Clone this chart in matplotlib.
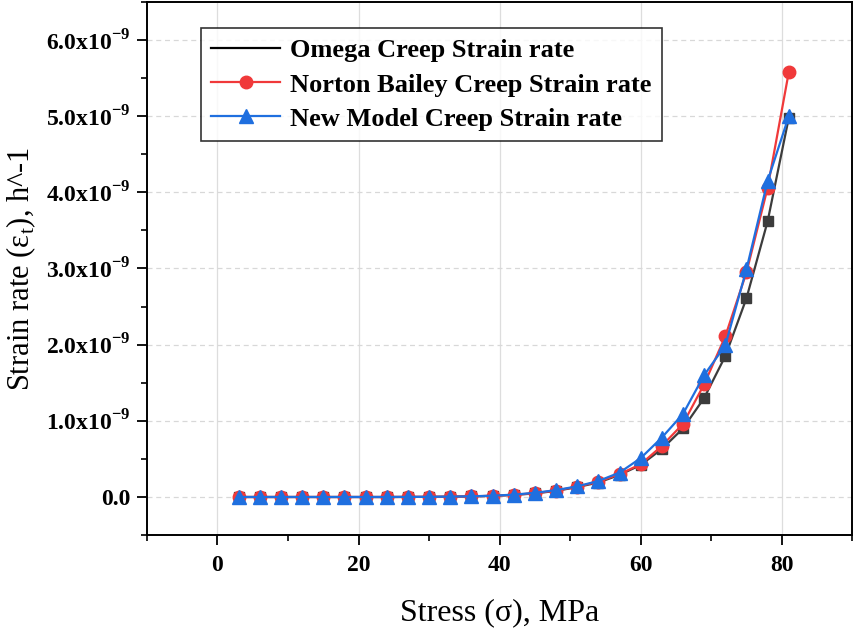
import numpy as np
import matplotlib
matplotlib.use('Agg')
import matplotlib.pyplot as plt
from matplotlib.lines import Line2D
from matplotlib.ticker import FixedLocator, FuncFormatter

plt.rcParams['font.family'] = ['Liberation Serif', 'DejaVu Serif']
plt.rcParams['mathtext.fontset'] = 'custom'
plt.rcParams['mathtext.rm'] = 'Liberation Serif'
plt.rcParams['mathtext.bf'] = 'Liberation Serif:bold'

# stress, MPa
stress = [3, 6, 9, 12, 15, 18, 21, 24, 27, 30, 33, 36, 39, 42,
          45, 48, 51, 54, 57, 60, 63, 66, 69, 72, 75, 78, 81]

# strain rates in units of 1e-9 h^-1
omega = [0.0, 0.0, 0.0, 0.0, 0.0, 0.0, 0.0, 0.0, 0.001, 0.002, 0.004, 0.008, 0.015, 0.027,
         0.047, 0.08, 0.13, 0.19, 0.29, 0.42, 0.63, 0.90, 1.30, 1.85, 2.61, 3.62, 4.98]
norton = [0.0, 0.0, 0.0, 0.0, 0.0, 0.0, 0.0, 0.0, 0.001, 0.002, 0.004, 0.009, 0.016, 0.029,
          0.05, 0.085, 0.135, 0.20, 0.30, 0.43, 0.67, 0.96, 1.48, 2.11, 2.95, 4.06, 5.58]
newmodel = [0.0, 0.0, 0.0, 0.0, 0.0, 0.0, 0.0, 0.0, 0.001, 0.002, 0.005, 0.009, 0.017, 0.031,
            0.055, 0.09, 0.14, 0.21, 0.32, 0.51, 0.78, 1.09, 1.60, 1.99, 2.99, 4.15, 5.0]

x_ticks = [0, 20, 40, 60, 80]
y_ticks = [0, 1, 2, 3, 4, 5, 6]

x = np.array(stress)
scale = 1e-9

fig = plt.figure(figsize=(8.54, 6.31), dpi=100)
ax = fig.add_axes([0.172, 0.152, 0.826, 0.845])

c_black = '#3c3c3c'
c_red = '#f0393a'
c_blue = '#1f6fdf'

ax.plot(x, np.array(omega) * scale, color=c_black, lw=1.6, marker='s', ms=7, zorder=3)
ax.plot(x, np.array(norton) * scale, color=c_red, lw=1.6, marker='o', ms=9, zorder=4)
ax.plot(x, np.array(newmodel) * scale, color=c_blue, lw=1.6, marker='^', ms=10, zorder=5)

ax.set_xlim(-10, 90)
ax.set_ylim(-0.5e-9, 6.5e-9)
ax.xaxis.set_major_locator(FixedLocator(x_ticks))
ax.xaxis.set_minor_locator(FixedLocator([-10 + 20 * i for i in range(6)]))
ax.yaxis.set_major_locator(FixedLocator([v * scale for v in y_ticks]))
ax.yaxis.set_minor_locator(FixedLocator([(v + 0.5) * scale for v in [-1] + y_ticks]))


def yfmt(v, pos):
    if abs(v) < 1e-12:
        return '0.0'
    return r'%.1fx10$^{\mathbf{-9}}$' % (v / 1e-9)


ax.yaxis.set_major_formatter(FuncFormatter(yfmt))
ax.tick_params(which='major', direction='out', length=7, width=1.3, labelsize=17)
ax.tick_params(which='minor', direction='out', length=4, width=1.2)
for lab in ax.get_xticklabels() + ax.get_yticklabels():
    lab.set_fontweight('bold')
ax.tick_params(axis='x', pad=7)
ax.tick_params(axis='y', pad=5)

for s in ax.spines.values():
    s.set_linewidth(1.4)

ax.grid(True, axis='x', color='#dddddd', lw=0.9, ls='-')
ax.grid(True, axis='y', color='#d8d8d8', lw=0.9, ls=(0, (4, 3)))
ax.set_axisbelow(True)

ax.set_xlabel('Stress (σ), MPa', fontsize=23, labelpad=16)
ax.set_ylabel(r'Strain rate (ε$_{\mathrm{t}}$), h^-1', fontsize=22, labelpad=6)

handles = [
    Line2D([], [], color='black', lw=1.6),
    Line2D([], [], color=c_red, lw=1.6, marker='o', ms=9),
    Line2D([], [], color=c_blue, lw=1.6, marker='^', ms=10),
]
labels = ['Omega Creep Strain rate', 'Norton Bailey Creep Strain rate',
          'New Model Creep Strain rate']
leg = ax.legend(handles, labels, loc='upper left', bbox_to_anchor=(0.065, 0.965),
                prop={'weight': 'bold', 'size': 19}, frameon=True, fancybox=False,
                edgecolor='black', handlelength=2.6, handletextpad=0.4,
                labelspacing=0.4, borderpad=0.4, borderaxespad=0.3)
leg.get_frame().set_linewidth(1.2)

fig.savefig('out.png', dpi=100)
